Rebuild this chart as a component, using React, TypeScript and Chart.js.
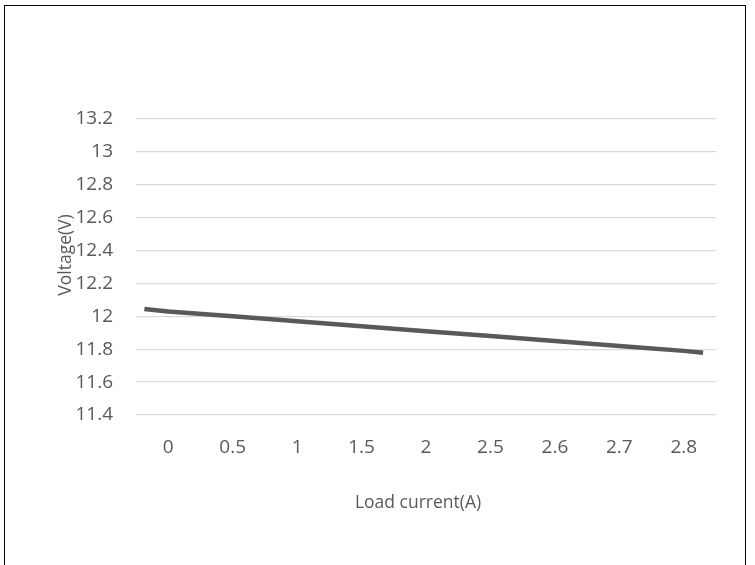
import React, { useEffect, useRef } from "react";
import { Chart, registerables } from "chart.js";

Chart.register(...registerables);

// Category labels on the x axis (load current, A)
const categories = ["0", "0.5", "1", "1.5", "2", "2.5", "2.6", "2.7", "2.8"];
// Voltage (V) read at each category
const voltage = [12.03, 12.0, 11.97, 11.94, 11.91, 11.88, 11.85, 11.82, 11.79];
// The drawn line runs a little past the first and last category
const lineStartPos = -0.37;
const lineStartValue = 12.045;
const lineEndPos = 8.3;
const lineEndValue = 11.778;

const yMin = 11.4;
const yMax = 13.2;
const yStep = 0.2;

const xTitle = "Load current(A)";
const yTitle = "Voltage(V)";

const FONT = "'Open Sans', 'Liberation Sans', sans-serif";
const TEXT = "#595959";

export default function App() {
  const ref = useRef<HTMLCanvasElement | null>(null);

  useEffect(() => {
    if (!ref.current) return;
    const points = [
      { x: lineStartPos, y: lineStartValue },
      ...voltage.map((v, i) => ({ x: i, y: v })),
      { x: lineEndPos, y: lineEndValue },
    ];

    const titles = {
      id: "titles",
      afterDraw(chart: any) {
        const ctx = chart.ctx;
        const a = chart.chartArea;
        ctx.save();
        ctx.fillStyle = TEXT;
        ctx.font = `17.5px ${FONT}`;
        ctx.textAlign = "center";
        ctx.textBaseline = "middle";
        ctx.fillText(xTitle, (a.left + a.right) / 2 - 8, 503);
        ctx.translate(66, 255);
        ctx.rotate(-Math.PI / 2);
        ctx.fillText(yTitle, 0, 0);
        ctx.restore();
      },
    };

    const chart = new Chart(ref.current, {
      type: "line",
      data: {
        datasets: [
          {
            data: points,
            borderColor: "#595959",
            borderWidth: 4.5,
            borderCapStyle: "butt",
            pointRadius: 0,
            tension: 0,
            fill: false,
          },
        ],
      },
      options: {
        animation: false,
        responsive: false,
        maintainAspectRatio: false,
        layout: { padding: { top: 119, right: 39, left: 0, bottom: 0 } },
        plugins: {
          legend: { display: false },
          tooltip: { enabled: false },
        },
        scales: {
          x: {
            type: "linear",
            min: -0.5,
            max: 8.5,
            afterBuildTicks: (s: any) => {
              s.ticks = categories.map((_, i) => ({ value: i }));
            },
            afterFit: (s: any) => {
              s.height = 565 - 415;
            },
            grid: { display: false, drawTicks: false },
            border: { display: false },
            ticks: {
              color: TEXT,
              font: { family: FONT, size: 19 },
              padding: 21,
              maxRotation: 0,
              autoSkip: false,
              callback: (v: any) => categories[Math.round(Number(v))] ?? "",
            },
          },
          y: {
            min: yMin,
            max: yMax,
            afterFit: (s: any) => {
              s.width = 136;
            },
            grid: { color: "#d9d9d9", lineWidth: 1.3, drawTicks: false },
            border: { display: false },
            ticks: {
              stepSize: yStep,
              color: TEXT,
              font: { family: FONT, size: 19 },
              padding: 23,
              callback: (v: any) => String(Number(Number(v).toFixed(1))),
            },
          },
        },
      },
      plugins: [titles],
    } as any);
    return () => chart.destroy();
  }, []);

  return (
    <div style={{ position: "fixed", left: 0, top: 0, width: 755, height: 565, overflow: "hidden", background: "#fff" }}>
      <canvas ref={ref} width={755} height={565} style={{ position: "absolute", left: 0, top: 0, width: 755, height: 565 }} />
      <div
        style={{
          position: "absolute",
          left: 4,
          top: 5,
          width: 742,
          height: 700,
          border: "1.5px solid #000",
          boxSizing: "border-box",
          pointerEvents: "none",
        }}
      />
    </div>
  );
}
